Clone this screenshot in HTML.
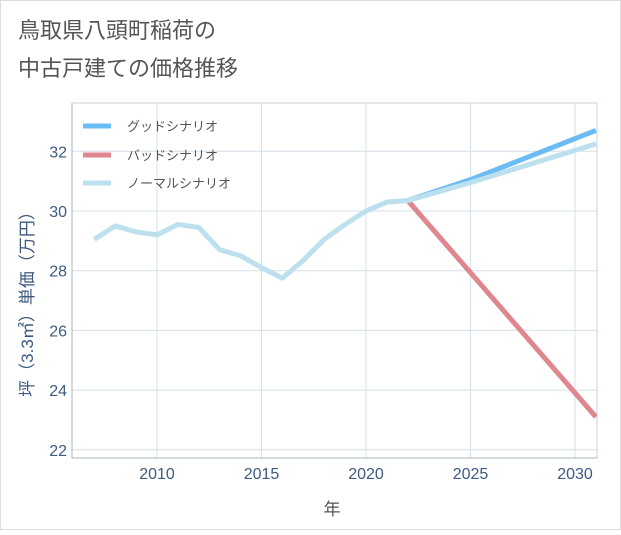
<!DOCTYPE html>
<html><head><meta charset="utf-8"><style>
body{margin:0;background:#fff}
svg text{font-family:"Liberation Sans","Noto Sans CJK JP",sans-serif}
</style></head><body>
<svg width="621" height="530">
<rect x="0.5" y="0.5" width="620" height="529" fill="#fff" stroke="#ddd"/>
<text x="18" y="38" font-size="22" fill="#555">鳥取県八頭町稲荷の</text>
<text x="18" y="76" font-size="22" fill="#555">中古戸建ての価格推移</text>
<g id="grid"></g>
<rect x="72" y="103" width="525" height="355" fill="none" stroke="#c8d2d8"/>
<line x1="72" y1="103" x2="72" y2="458" stroke="#a8b4bc"/>
<line x1="72" y1="458" x2="597" y2="458" stroke="#a8b4bc"/>
<g id="series"></g>
<g id="ticks"></g>
<text x="332" y="515" font-size="17" fill="#555" text-anchor="middle">年</text>
<text transform="translate(33,300) rotate(-90)" font-size="17" fill="#3d5a80" text-anchor="middle">坪（3.3㎡）単価（万円）</text>
<g>
<line x1="83" y1="126" x2="111" y2="126" stroke="#6bbcf2" stroke-width="5"/>
<text x="127" y="131" font-size="13" fill="#555">グッドシナリオ</text>
<line x1="83" y1="155" x2="111" y2="155" stroke="#e0868e" stroke-width="5"/>
<text x="127" y="160" font-size="13" fill="#555">バッドシナリオ</text>
<line x1="83" y1="183" x2="111" y2="183" stroke="#bde0ee" stroke-width="5"/>
<text x="127" y="188" font-size="13" fill="#555">ノーマルシナリオ</text>
</g>
</svg>
<script>
const normalYears=[2007,2008,2009,2010,2011,2012,2013,2014,2015,2016,2017,2018,2019,2020,2021,2022,2025,2031];
const normalVals=[29.05,29.5,29.3,29.2,29.55,29.45,28.7,28.5,28.1,27.75,28.35,29.05,29.55,30.0,30.3,30.35,30.95,32.25];
const goodYears=[2022,2025,2031];
const goodVals=[30.35,31.05,32.7];
const badYears=[2022,2031];
const badVals=[30.35,23.1];
const xTicks=[2010,2015,2020,2025,2030];
const yTicks=[22,24,26,28,30,32];
const NS="http://www.w3.org/2000/svg";
const X=y=>157+(y-2010)*20.9;
const Y=v=>211-(v-30)*29.85;
const grid=document.getElementById('grid'),ticks=document.getElementById('ticks'),ser=document.getElementById('series');
function mk(p,t,a){const e=document.createElementNS(NS,t);for(const k in a)e.setAttribute(k,a[k]);p.appendChild(e);return e;}
xTicks.forEach(t=>{const l=mk(grid,'line',{x1:X(t),x2:X(t),y1:103,y2:458,stroke:'#d5e0e8'});


const tx=mk(ticks,'text',{x:X(t),y:479,'font-size':16,fill:'#3d5a80','text-anchor':'middle'});tx.textContent=t;

});
yTicks.forEach(t=>{const l=mk(grid,'line',{x1:72,x2:597,y1:Y(t),y2:Y(t),stroke:'#d5e0e8'});


const tx=mk(ticks,'text',{x:67,y:Y(t)+6,'font-size':16,fill:'#3d5a80','text-anchor':'end'});tx.textContent=t;

});
function line(ys,vs,c,n){const p=mk(ser,'polyline',{points:ys.map((y,i)=>X(y)+','+Y(vs[i])).join(' '),fill:'none',stroke:c,'stroke-width':5,'stroke-linejoin':'round'});

}
const cp=mk(document.querySelector('svg'),'clipPath',{id:'c'});mk(cp,'rect',{x:72,y:103,width:525,height:355});
ser.setAttribute('clip-path','url(#c)');
line(goodYears,goodVals,'#6bbcf2','good-line');
line(badYears,badVals,'#e0868e','bad-line');
line(normalYears,normalVals,'#bde0ee','normal-line');
</script>
</body></html>
